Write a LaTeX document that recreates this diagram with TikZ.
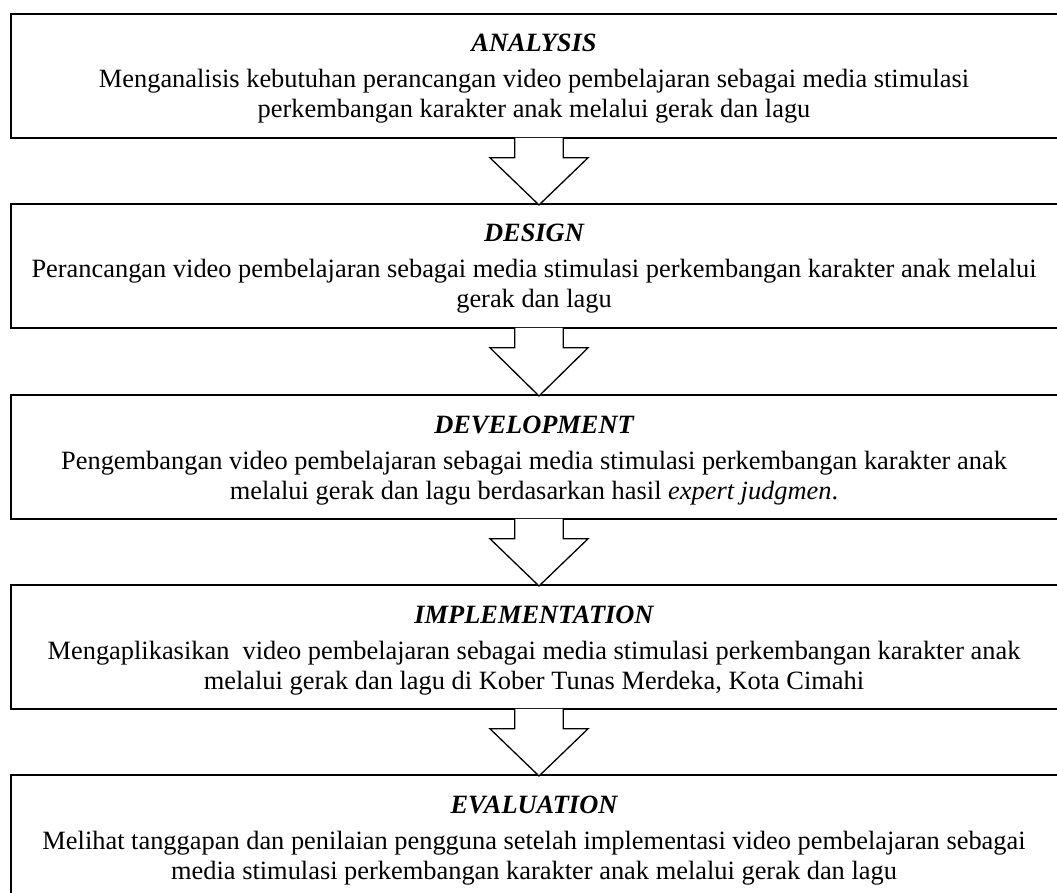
\documentclass[tikz,border=0pt]{standalone}
\usepackage{fontspec}
\setmainfont{Liberation Serif}
\usetikzlibrary{calc}
\begin{document}
\begin{tikzpicture}[x=1pt,y=-1pt,
  box/.style={draw, line width=1.8pt, minimum width=1055pt, minimum height=124pt, inner sep=0pt, anchor=north west},
  ttl/.style={font=\fontsize{26.4}{30}\selectfont\bfseries\itshape, anchor=base, inner sep=0pt},
  body/.style={font=\fontsize{26.4}{30}\selectfont, anchor=base, inner sep=0pt},
  blk/.style={draw, fill=white, line width=1.3pt, line join=miter}]
\useasboundingbox (0,0) rectangle (1057,893);
\clip (0,0) rectangle (1057,893);
\coordinate (ax) at (539,0);
\coordinate (tx) at (534,0);
% boxes
\node[box] (b1) at (10,13) {};
\node[box] (b2) at (10,203) {};
\node[box] (b3) at (10,394) {};
\node[box] (b4) at (10,584) {};
\node[box] (b5) at (10,774) {};
% texts
\node[ttl] (t1) at ($(b1.north -| tx)+(0,39)$) {ANALYSIS};
\node[body] (l11) at ($(b1.north -| tx)+(0,75)$) {Menganalisis kebutuhan perancangan video pembelajaran sebagai media stimulasi};
\node[body] (l12) at ($(b1.north -| tx)+(0,105)$) {perkembangan karakter anak melalui gerak dan lagu};
\node[ttl] (t2) at ($(b2.north -| tx)+(0,39)$) {DESIGN};
\node[body] (l21) at ($(b2.north -| tx)+(0,75)$) {Perancangan video pembelajaran sebagai media stimulasi perkembangan karakter anak melalui};
\node[body] (l22) at ($(b2.north -| tx)+(0,105)$) {gerak dan lagu};
\node[ttl] (t3) at ($(b3.north -| tx)+(0,39)$) {DEVELOPMENT};
\node[body] (l31) at ($(b3.north -| tx)+(0,75)$) {Pengembangan video pembelajaran sebagai media stimulasi perkembangan karakter anak};
\node[body] (l32) at ($(b3.north -| tx)+(0,105)$) {melalui gerak dan lagu berdasarkan hasil \textit{expert judgmen}.};
\node[ttl] (t4) at ($(b4.north -| tx)+(0,39)$) {IMPLEMENTATION};
\node[body] (l41) at ($(b4.north -| tx)+(0,75)$) {Mengaplikasikan\ \ video pembelajaran sebagai media stimulasi perkembangan karakter anak};
\node[body] (l42) at ($(b4.north -| tx)+(0,105)$) {melalui gerak dan lagu di Kober Tunas Merdeka, Kota Cimahi};
\node[ttl] (t5) at ($(b5.north -| tx)+(0,39)$) {EVALUATION};
\node[body] (l51) at ($(b5.north -| tx)+(0,75)$) {Melihat tanggapan dan penilaian pengguna setelah implementasi video pembelajaran sebagai};
\node[body] (l52) at ($(b5.north -| tx)+(0,105)$) {media stimulasi perkembangan karakter anak melalui gerak dan lagu};
% block arrows
\foreach \a/\b in {b1/b2,b2/b3,b3/b4,b4/b5}{
  \draw[blk] ($(\a.south -| ax)+(-24.3,-1)$) -- ++(0,20) -- ++(-24.7,0)
    -- ($(\b.north -| ax)+(0,2)$) -- ($(\a.south -| ax)+(49,19)$)
    -- ++(-24.7,0) -- ++(0,-20);
}
\end{tikzpicture}
\end{document}
